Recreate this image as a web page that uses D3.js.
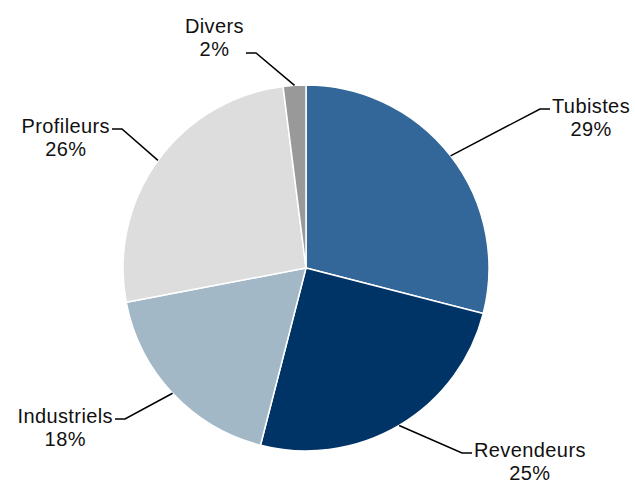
<!DOCTYPE html>
<html>
<head>
<meta charset="utf-8">
<script src="https://cdn.jsdelivr.net/npm/d3@7"></script>
<style>
    body { margin: 0; background: #fff; }
    text { font-family: "Liberation Sans", Arial, sans-serif; font-size: 20px; letter-spacing: 0.4px; fill: #111; }
</style>
</head>
<body>
<script>
const categories = ['Tubistes', 'Revendeurs', 'Industriels', 'Profileurs', 'Divers'];
const shares = [29, 25, 18, 26, 2];
const colors = ['#336699', '#003366', '#a3b8c7', '#dddddd', '#999999'];

// where each label's leader line bends, relative to the pie centre
const labelOffsets = [[234, -159], [156, 185], [-181, 151], [-184, -139], [-50, -215]];
// which text line the leader attaches to
const attachLine = [0, 0, 0, 0, 1];

const width = 635, height = 482;
const cx = 306, cy = 268, radius = 183;

const data = categories.map(function(c, i) {
    return { name: c, value: shares[i], color: colors[i], off: labelOffsets[i], attach: attachLine[i] };
});

const svg = d3.select('body')
    .append('svg')
    .attr('width', width)
    .attr('height', height);

const g = svg.append('g')
    .attr('transform', 'translate(' + cx + ',' + cy + ')');

const pie = d3.pie()
    .sort(null)
    .value(function(d) { return d.value; });

const arc = d3.arc()
    .innerRadius(0)
    .outerRadius(radius);

const arcs = pie(data);

g.selectAll('path.slice')
    .data(arcs)
    .enter()
    .append('path')
    .attr('class', 'slice')
    .attr('d', arc)
    .attr('fill', function(d) { return d.data.color; })
    .attr('stroke', '#fff')
    .attr('stroke-width', 1.5);

const lineGap = 23;

arcs.forEach(function(d) {
    const mid = (d.startAngle + d.endAngle) / 2;
    const p0 = [radius * Math.sin(mid), -radius * Math.cos(mid)];
    const elbow = d.data.off;
    const right = elbow[0] > 0;
    const tail = [elbow[0] + (right ? 10 : -10), elbow[1]];

    g.append('polyline')
        .attr('points', [p0, elbow, tail].map(function(p) { return p.join(','); }).join(' '))
        .attr('fill', 'none')
        .attr('stroke', '#000')
        .attr('stroke-width', 1.5);

    const t = g.append('text')
        .attr('text-anchor', 'middle');
    const l1 = t.append('tspan').text(d.data.name);
    const l2 = t.append('tspan').text(d.data.value + '%');

    const w = Math.max(l1.node().getComputedTextLength(), l2.node().getComputedTextLength());
    const centerX = right ? tail[0] + 2 + w / 2 : tail[0] - 2 - w / 2;
    const base1 = d.data.attach === 0 ? elbow[1] + 4 : elbow[1] + 3 - lineGap;

    l1.attr('x', centerX).attr('y', base1);
    l2.attr('x', centerX).attr('y', base1 + lineGap);
});
</script>
</body>
</html>
